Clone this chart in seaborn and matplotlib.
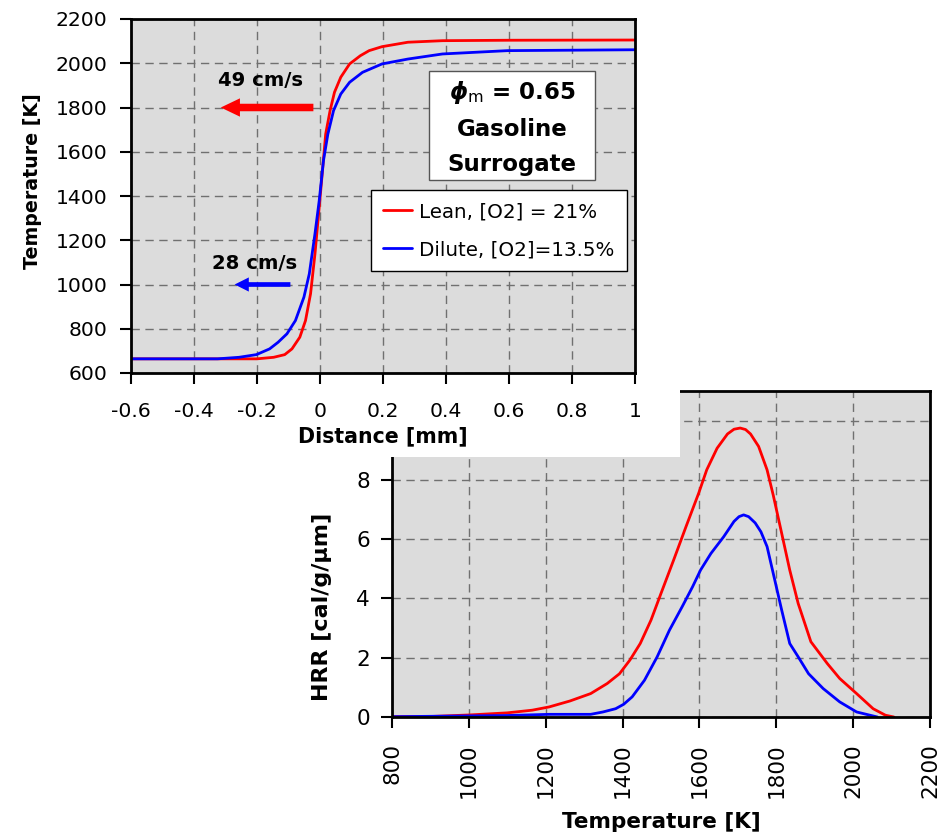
import numpy as np
import pandas as pd
import matplotlib
matplotlib.use("Agg")
import matplotlib.pyplot as plt
from matplotlib.patches import Rectangle
import seaborn as sns

# ---------------- data ----------------
dist_lean = [-0.6, -0.2, -0.147, -0.112, -0.089, -0.064, -0.046, -0.030, -0.016, -0.0025,
             0.007, 0.018, 0.032, 0.046, 0.066, 0.094, 0.128, 0.156, 0.197, 0.279, 0.389, 0.6, 1.0]
temp_lean = [664, 664, 671, 683, 709, 762, 837, 958, 1138, 1349,
             1500, 1680, 1786, 1869, 1937, 1997, 2034, 2057, 2075, 2095, 2102, 2104, 2105]

dist_dil = [-0.6, -0.325, -0.257, -0.202, -0.160, -0.133, -0.105, -0.078, -0.051, -0.034,
            -0.016, -0.0025, 0.011, 0.025, 0.043, 0.066, 0.094, 0.135, 0.197, 0.279, 0.389, 0.595, 1.0]
temp_dil = [664, 664, 671, 683, 709, 739, 777, 837, 943, 1048,
            1229, 1379, 1560, 1680, 1786, 1861, 1914, 1959, 1997, 2019, 2042, 2057, 2061]

hrr_T_lean = [800, 906, 1003, 1100, 1165, 1209, 1263, 1317, 1360, 1392, 1419, 1446, 1474, 1500,
              1533, 1565, 1598, 1619, 1646, 1673, 1690, 1706, 1720, 1733, 1754, 1776, 1792, 1814,
              1835, 1857, 1890, 1933, 1965, 2009, 2052, 2084, 2106]
hrr_lean = [0.01, 0.02, 0.07, 0.14, 0.23, 0.34, 0.54, 0.79, 1.13, 1.46, 1.92, 2.48, 3.27, 4.17,
            5.30, 6.42, 7.55, 8.34, 9.07, 9.55, 9.71, 9.75, 9.70, 9.55, 9.13, 8.34, 7.49, 6.20,
            4.96, 3.83, 2.54, 1.80, 1.30, 0.79, 0.28, 0.06, 0.0]

hrr_T_dil = [800, 1100, 1209, 1317, 1349, 1382, 1403, 1425, 1457, 1490, 1522, 1555, 1582, 1603,
             1630, 1663, 1690, 1703, 1715, 1728, 1745, 1760, 1776, 1792, 1814, 1835, 1857, 1884,
             1922, 1965, 2009, 2063]
hrr_dil = [0.01, 0.05, 0.09, 0.09, 0.17, 0.28, 0.43, 0.68, 1.24, 2.03, 2.93, 3.72, 4.39, 4.96,
           5.52, 6.08, 6.60, 6.76, 6.82, 6.76, 6.55, 6.25, 5.75, 4.85, 3.61, 2.48, 2.03, 1.46,
           0.96, 0.51, 0.17, 0.0]

series_labels = ["Lean, [O2] = 21%", "Dilute, [O2]=13.5%"]
series_colors = ["#ff0000", "#0000ff"]

dist_ticklabels = ["-0.6", "-0.4", "-0.2", "0", "0.2", "0.4", "0.6", "0.8", "1"]
hrr_ticklabels = ["0", "2", "4", "6", "8", ""]   # the "10" label sits under the top chart

# ---------------- style ----------------
sns.set_theme(style="whitegrid")
plt.rcParams["font.family"] = ["DejaVu Sans"]
plt.rcParams["text.color"] = "black"
plt.rcParams["axes.labelcolor"] = "black"
plt.rcParams["xtick.color"] = "black"
plt.rcParams["ytick.color"] = "black"
plt.rcParams["mathtext.fontset"] = "custom"
plt.rcParams["mathtext.rm"] = "DejaVu Sans"
plt.rcParams["mathtext.it"] = "DejaVu Sans:italic:bold"
plt.rcParams["mathtext.bf"] = "DejaVu Sans:bold"

FACE = "#dcdcdc"
GRID = "#707070"
LW = 2.0


def style_axes(ax, tick_fs):
    ax.set_facecolor(FACE)
    for s in ax.spines.values():
        s.set_visible(True)
        s.set_color("black")
        s.set_linewidth(2)
    ax.grid(True, color=GRID, linestyle=(0, (6, 4)), linewidth=1)
    ax.tick_params(axis="both", which="major", direction="out", length=8, width=1.5,
                   color="black", labelsize=tick_fs, labelcolor="black",
                   bottom=True, left=True, top=False, right=False)
    ax.set_axisbelow(True)


fig = plt.figure(figsize=(9.47, 8.33), dpi=100)
fig.patch.set_facecolor("white")

# ---- bottom-right HRR chart ----
ax2 = fig.add_axes([392 / 947, 1 - 717 / 833, 538 / 947, 326 / 833])
ax2.set_zorder(1)
style_axes(ax2, 15.5)
df_hl = pd.DataFrame({"T": hrr_T_lean, "HRR": hrr_lean})
df_hd = pd.DataFrame({"T": hrr_T_dil, "HRR": hrr_dil})
sns.lineplot(data=df_hl, x="T", y="HRR", ax=ax2, color=series_colors[0], linewidth=LW,
             estimator=None, sort=False)
sns.lineplot(data=df_hd, x="T", y="HRR", ax=ax2, color=series_colors[1], linewidth=LW,
             estimator=None, sort=False)
ax2.set_xlim(800, 2200)
ax2.set_ylim(0, 11)
ax2.set_xticks(np.arange(800, 2201, 200))
ax2.set_yticks(np.arange(0, 11, 2))
ax2.set_yticklabels(hrr_ticklabels)
ax2.tick_params(axis="x", labelrotation=90, pad=11)
ax2.tick_params(axis="y", pad=8)
ax2.set_xlabel("Temperature [K]", fontsize=15.5, fontweight="bold", labelpad=10)
ax2.set_ylabel("HRR [cal/g/\u03bcm]", fontsize=16, fontweight="bold")
ax2.yaxis.set_label_coords(-0.112, 0.337)

# white chart-area of top chart covering part of bottom chart
rect = Rectangle((0, 1 - 457 / 833), 680 / 947, 457 / 833, transform=fig.transFigure,
                 facecolor="white", edgecolor="none", zorder=2)
fig.add_artist(rect)

# ---- top-left temperature chart ----
ax1 = fig.add_axes([131 / 947, 1 - 373 / 833, 504 / 947, 354 / 833])
ax1.set_zorder(3)
style_axes(ax1, 14.7)
df_l = pd.DataFrame({"x": dist_lean, "T": temp_lean})
df_d = pd.DataFrame({"x": dist_dil, "T": temp_dil})
sns.lineplot(data=df_l, x="x", y="T", ax=ax1, color=series_colors[0], linewidth=LW,
             estimator=None, sort=False, label=series_labels[0])
sns.lineplot(data=df_d, x="x", y="T", ax=ax1, color=series_colors[1], linewidth=LW,
             estimator=None, sort=False, label=series_labels[1])
ax1.set_xlim(-0.6, 1.0)
ax1.set_ylim(600, 2200)
ax1.set_xticks(np.round(np.arange(-0.6, 1.01, 0.2), 1))
ax1.set_xticklabels(dist_ticklabels)
ax1.set_yticks(np.arange(600, 2201, 200))
ax1.tick_params(axis="x", pad=13)
ax1.tick_params(axis="y", pad=9)
ax1.set_xlabel("Distance [mm]", fontsize=14.8, fontweight="bold", labelpad=4)
ax1.set_ylabel("Temperature [K]", fontsize=13.7, fontweight="bold")
ax1.yaxis.set_label_coords(-0.177, 0.542)

leg = ax1.legend(loc="upper right", bbox_to_anchor=(0.984, 0.517), borderaxespad=0,
                 fontsize=14.3, frameon=True, fancybox=False, shadow=False,
                 handlelength=1.45, handletextpad=0.36, labelspacing=0.95,
                 borderpad=0.62)
leg.get_frame().set_edgecolor("black")
leg.get_frame().set_linewidth(1.0)
leg.get_frame().set_facecolor("white")
leg.get_frame().set_alpha(1)
leg.set_zorder(7)

# annotation box (phi_m / fuel)
box = Rectangle((0.591, 0.545), 0.330, 0.308, transform=ax1.transAxes,
                facecolor="white", edgecolor="#555555", linewidth=1.0, zorder=5)
ax1.add_patch(box)
ax1.text(0.756, 0.694, "$\\phi_{\\mathrm{m}}$ = 0.65\nGasoline\nSurrogate",
         transform=ax1.transAxes, ha="center", va="center", fontsize=16.5,
         fontweight="bold", linespacing=1.66, zorder=6)

# flame-speed arrows and labels
red_arrow = dict(tail=(-0.021, 1800), tip=(-0.315, 1800))
blue_arrow = dict(tail=(-0.094, 1000), tip=(-0.271, 1000))
ax1.annotate("", xy=red_arrow["tip"], xytext=red_arrow["tail"],
             arrowprops=dict(arrowstyle="simple,head_length=1.15,head_width=1.1,tail_width=0.45",
                             facecolor=series_colors[0], edgecolor="none", shrinkA=0, shrinkB=0),
             zorder=6)
ax1.annotate("", xy=blue_arrow["tip"], xytext=blue_arrow["tail"],
             arrowprops=dict(arrowstyle="simple,head_length=0.85,head_width=0.85,tail_width=0.28",
                             facecolor=series_colors[1], edgecolor="none", shrinkA=0, shrinkB=0),
             zorder=6)
ax1.text(-0.189, 1921, "49 cm/s", ha="center", va="center", fontsize=14.1, fontweight="bold")
ax1.text(-0.208, 1096, "28 cm/s", ha="center", va="center", fontsize=14.1, fontweight="bold")

fig.savefig("out.png", dpi=100, facecolor="white")
